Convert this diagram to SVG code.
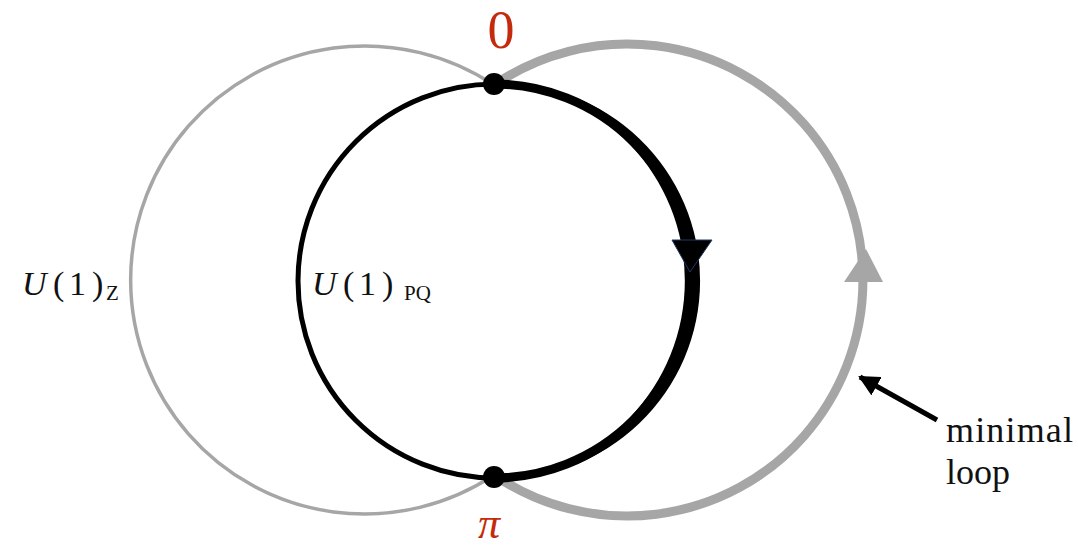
<svg xmlns="http://www.w3.org/2000/svg" width="1078" height="549" viewBox="0 0 1078 549">
<style>
.gray{fill:none;stroke:#a6a6a6}
.red{fill:#c42b0c;font-family:"Liberation Serif",serif}
.math{font-family:"Liberation Serif",serif;fill:#111}
.lbl{font-family:"Liberation Serif",serif;fill:#111;font-size:36px}
</style>
<defs>
<marker id="ah" viewBox="0 0 10 10" refX="9" refY="5" markerWidth="4.2" markerHeight="4.2" orient="auto" markerUnits="strokeWidth">
<path d="M0,0 L10,5 L0,10 z" fill="#000"/>
</marker>
</defs>
<rect width="1078" height="549" fill="#fff"/>
<g id="loop-z">
<path class="gray" stroke-width="3.5" d="M494,85 A234,234 0 1 0 494,475"/>
</g>
<g id="minimal-loop">
<path class="gray" stroke-width="9" d="M494,85 A236,236 0 1 1 494,475"/>
<polygon points="844,282 883,282 866,249" fill="#a6a6a6"/>
</g>
<g id="loop-pq">
<circle cx="495" cy="281" r="197" fill="none" stroke="#000" stroke-width="5"/>
<path d="M494,84 A197,197 0 0 1 494,478" fill="none" stroke="#000" stroke-width="9"/>
<path d="M494,84 A197.2,197.2 0 1 1 494,478 A197.1,197.1 0 0 0 494,84 Z" fill="#000"/>
<polygon points="672,240 712,240 690,272" fill="#000" stroke="#1f3864" stroke-width="1"/>
</g>
<g id="point-0">
<circle cx="494" cy="84" r="11" fill="#000"/>
<text class="red" x="501" y="48" font-size="54" text-anchor="middle">0</text>
</g>
<g id="point-pi">
<circle cx="494" cy="477" r="11" fill="#000"/>
<text class="red" x="489" y="538" font-size="44" font-style="italic" text-anchor="middle">π</text>
</g>
<g id="label-z">
<text class="math" y="295" font-size="34"><tspan x="22" font-style="italic">U</tspan><tspan x="53">(</tspan><tspan x="69">1</tspan><tspan x="92">)</tspan></text>
<text class="math" x="106" y="300" font-size="21">Z</text>
</g>
<g id="label-pq">
<text class="math" y="295" font-size="34"><tspan x="312" font-style="italic">U</tspan><tspan x="343">(</tspan><tspan x="359">1</tspan><tspan x="382">)</tspan></text>
<text class="math" x="404" y="300" font-size="21">PQ</text>
</g>
<g id="connectors">
<line x1="937" y1="420" x2="860" y2="377" stroke="#000" stroke-width="5" marker-end="url(#ah)"/>
</g>
<g id="label-minimal">
<text class="lbl" x="946" y="442" font-family="Liberation Serif, serif" textLength="127" lengthAdjust="spacing">minimal</text>
<text class="lbl" x="946" y="484" font-family="Liberation Serif, serif">loop</text>
</g>
</svg>
